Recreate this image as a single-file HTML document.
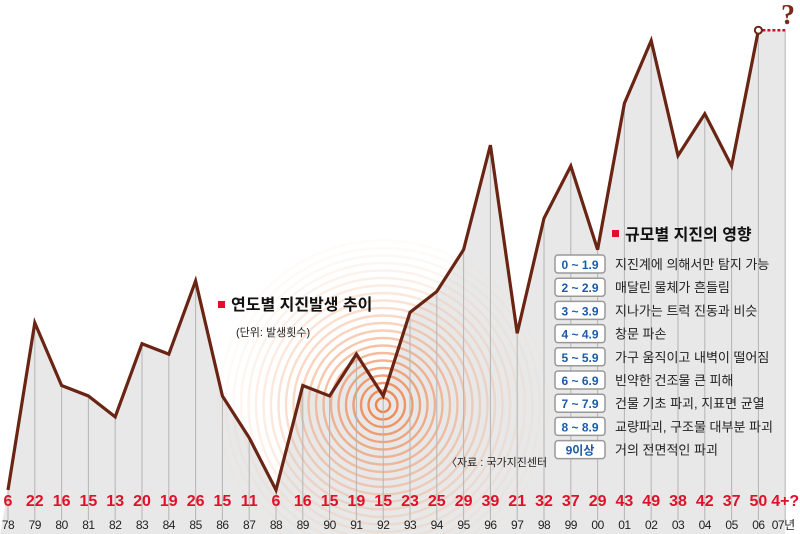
<!DOCTYPE html>
<html><head><meta charset="utf-8"><style>
html,body{margin:0;padding:0;background:#fff;width:800px;height:534px;overflow:hidden;}
svg{display:block;font-family:"Liberation Sans","Noto Sans CJK KR",sans-serif;}
</style></head><body>
<svg id="s" width="800" height="534" viewBox="0 0 800 534" xmlns="http://www.w3.org/2000/svg">
<defs>
<radialGradient id="rg" cx="383" cy="405" r="165" gradientUnits="userSpaceOnUse">
<stop offset="0" stop-color="#f07a40" stop-opacity="1"/>
<stop offset="0.6" stop-color="#f3a070" stop-opacity="0.6"/>
<stop offset="1" stop-color="#f5c0a0" stop-opacity="0.2"/>
</radialGradient>
</defs>
<g id="g"></g>
</svg>
<script>
var v=[6,22,16,15,13,20,19,26,15,11,6,16,15,19,15,23,25,29,39,21,32,37,29,43,49,38,42,37,50];
var yrs=["78","79","80","81","82","83","84","85","86","87","88","89","90","91","92","93","94","95","96","97","98","99","00","01","02","03","04","05","06","07년"];
function X(i){return 8+i*26.8;}
function Y(a){return 490-(a-6)*10.45;}
var h='';
var pts=v.map(function(a,i){return X(i)+','+Y(a);});
h+='<polygon points="0,534 '+pts.join(' ')+' '+X(29)+','+Y(50)+' '+X(29)+',534" fill="#e8e8e8"/>';
for(var r=7;r<=165;r+=7.5){h+='<circle cx="383" cy="405" r="'+r+'" fill="none" stroke="url(#rg)" stroke-width="2.4" opacity="'+(1-r/230)+'"/>';}
for(var i=0;i<30;i++){var a=i<29?v[i]:50;h+='<line x1="'+X(i)+'" y1="'+Y(a)+'" x2="'+X(i)+'" y2="520" stroke="#b5b5b5" stroke-width="1"/>';}
h+='<polyline points="'+pts.join(' ')+'" fill="none" stroke="#6a2414" stroke-width="3.2" stroke-linejoin="miter"/>';
h+='<line x1="'+(X(28)+4)+'" y1="'+Y(50)+'" x2="'+X(29)+'" y2="'+Y(50)+'" stroke="#c8102e" stroke-width="2.5" stroke-dasharray="3,2"/>';
h+='<circle cx="'+X(28)+'" cy="'+Y(50)+'" r="3.5" fill="#fff" stroke="#6a2414" stroke-width="2"/>';
h+='<text x="795" y="24" text-anchor="end" font-family="Liberation Serif,serif" font-size="28" font-weight="bold" fill="#7a2a18">?</text>';
for(var i=0;i<30;i++){
 var lab=i<29?String(v[i]):'4+?';
 h+='<text x="'+X(i)+'" y="506" text-anchor="middle" font-size="16" font-weight="bold" fill="#e0102a">'+lab+'</text>';
 h+='<text x="'+(i==29?X(i)-2:X(i))+'" y="529" text-anchor="middle" font-size="12" fill="#222" letter-spacing="-0.5">'+yrs[i]+'</text>';
}
h+='<rect x="218" y="301" width="7" height="7" fill="#e0102a"/>';
h+='<text x="231" y="310" font-size="16" font-weight="bold" fill="#111">연도별 지진발생 추이</text>';
h+='<text x="236" y="336" font-size="11" fill="#222">(단위: 발생횟수)</text>';
h+='<text x="446" y="466" font-size="11" fill="#222">〈자료 : 국가지진센터</text>';
h+='<rect x="612" y="230" width="7" height="7" fill="#e0102a"/>';
h+='<text x="625" y="240" font-size="16" font-weight="bold" fill="#111">규모별 지진의 영향</text>';
var L=[["0 ~ 1.9","지진계에 의해서만 탐지 가능"],["2 ~ 2.9","매달린 물체가 흔들림"],["3 ~ 3.9","지나가는 트럭 진동과 비슷"],["4 ~ 4.9","창문 파손"],["5 ~ 5.9","가구  움직이고 내벽이 떨어짐"],["6 ~ 6.9","빈약한 건조물  큰 피해"],["7 ~ 7.9","건물 기초 파괴, 지표면 균열"],["8 ~ 8.9","교량파괴, 구조물 대부분 파괴"],["9이상","거의 전면적인 파괴"]];
for(var k=0;k<9;k++){var y=255+k*23.2;
 h+='<rect x="555" y="'+y+'" width="50" height="18" rx="3" fill="#fff" stroke="#999" stroke-width="1.5"/>';
 h+='<text x="580" y="'+(y+14)+'" text-anchor="middle" font-size="12" font-weight="bold" fill="#1a5aa8">'+L[k][0]+'</text>';
 h+='<text x="615" y="'+(y+14)+'" font-size="13" fill="#222">'+L[k][1]+'</text>';}
document.getElementById('g').innerHTML=h;
</script>
</body></html>
